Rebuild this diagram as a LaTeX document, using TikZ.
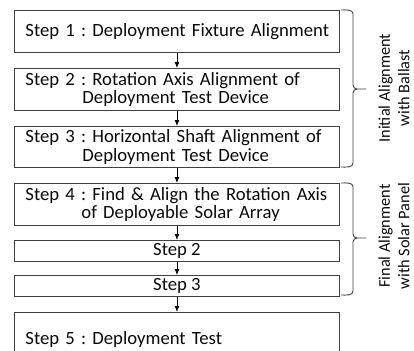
\documentclass[tikz,border=0pt]{standalone}
\usepackage{fontspec}
\setmainfont{Carlito}
\usetikzlibrary{arrows.meta}
\definecolor{boxgray}{RGB}{64,64,64}
\definecolor{txt}{RGB}{10,10,10}
\frenchspacing
\hbadness=10000 \hfuzz=100pt
\begin{document}
\begin{tikzpicture}[x=1pt,y=-1pt,
  box/.style={draw=boxgray, line width=0.9pt, minimum width=325pt, anchor=north west,
    inner sep=0pt, text=txt, font=\fontsize{18.7}{18.5}\selectfont, align=center},
  lbox/.style={box, text width=303pt, inner xsep=11pt, align=left},
  arr/.style={-{Latex[length=6pt,width=5pt]}, line width=0.8pt, draw=black},
  brace/.style={draw=boxgray, line width=0.9pt},
  side/.style={rotate=90, align=center, text=txt, font=\fontsize{16.3}{19.5}\selectfont}]
\useasboundingbox (0,0) rectangle (414,350);
\clip (0,0) rectangle (414,350);
\node[lbox, minimum height=42pt] (b1) at (14,10) {\mbox{Step 1 : Deployment Fixture Alignment}};
\node[lbox, minimum height=42pt] (b2) at (14,68) {\mbox{Step 2 : Rotation Axis Alignment of}\\\mbox{\hspace*{57pt}Deployment Test Device}};
\node[lbox, minimum height=41pt] (b3) at (14,126) {\mbox{Step 3 : Horizontal Shaft Alignment of}\\\mbox{\hspace*{57pt}Deployment Test Device}};
\node[lbox, minimum height=42pt] (b4) at (14,183) {\mbox{Step 4 : Find \& Align the Rotation Axis}\\\mbox{\hspace*{56pt}of Deployable Solar Array}};
\node[box, minimum height=21pt] (b5) at (14,240) {Step 2};
\node[box, minimum height=21pt] (b6) at (14,275) {Step 3};
\node[lbox, minimum height=54pt] (b7) at (14,312) {\mbox{Step 5 : Deployment Test}};
\draw[arr] (b1) -- (b2);
\draw[arr] (b2) -- (b3);
\draw[arr] (b3) -- (b4);
\draw[arr] (b4) -- (b5);
\draw[arr] (b5) -- (b6);
\draw[arr] (b6) -- (b7);
% braces
\coordinate (t1) at (366,89);
\draw[brace] (341,10) to[out=0,in=90] (353,14) -- (353,85) to[out=-90,in=180] (357,89) -- (t1);
\draw[brace] (341,167) to[out=0,in=-90] (353,163) -- (353,93) to[out=90,in=180] (357,89);
\coordinate (t2) at (366,238);
\draw[brace] (341,183) to[out=0,in=90] (353,187) -- (353,234) to[out=-90,in=180] (357,238) -- (t2);
\draw[brace] (341,295) to[out=0,in=-90] (353,291) -- (353,242) to[out=90,in=180] (357,238);
\node[side] (s1) at (394,88) {Initial Alignment\\with Ballast};
\node[side] (s2) at (394,236) {Final Alignment\\with Solar Panel};
\end{tikzpicture}
\end{document}
